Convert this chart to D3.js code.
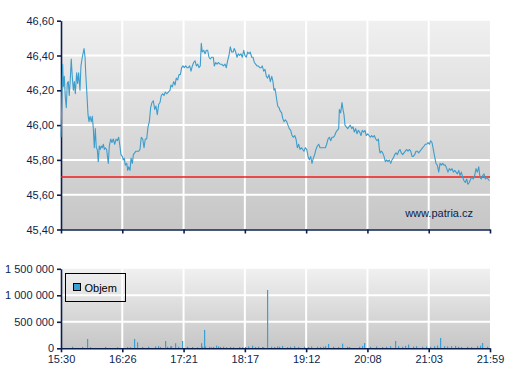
<!DOCTYPE html>
<html>
<head>
<meta charset="utf-8">
<script src="https://cdn.jsdelivr.net/npm/d3@7"></script>
<style>
  body { margin: 0; background: #fff; }
  text { font-family: "Liberation Sans", Arial, sans-serif; }
</style>
</head>
<body>
<script>
// minutes after 15:30, price
const priceSeries = [
  [0,45.93],[1.5,46.35],[2.1,46.22],[3.0,46.28],[3.9,46.16],[4.8,46.10],[5.7,46.24],[6.6,46.25],[7.5,46.17],[8.4,46.26],
  [9.3,46.38],[10.2,46.28],[11.2,46.20],[12.1,46.25],[13.0,46.18],[14.2,46.30],[15.1,46.24],[16.0,46.30],[17.2,46.20],[18.1,46.34],
  [19.3,46.39],[20.9,46.44],[21.8,46.39],[22.4,46.30],[23.3,46.20],[24.5,46.06],[25.4,46.02],[26.3,46.05],[27.5,46.02],[28.4,46.05],
  [29.3,45.98],[30.2,45.87],[31.1,45.98],[32.0,45.87],[32.9,45.86],[33.8,45.79],[34.7,45.88],[35.6,45.86],[36.5,45.88],[37.4,45.87],
  [38.4,45.89],[39.3,45.86],[40.2,45.87],[41.4,45.86],[42.9,45.78],[43.8,45.88],[45.1,45.92],[46.2,45.90],[47.4,45.92],[48.7,45.89],
  [49.9,45.92],[51.1,45.91],[52.3,45.93],[53.2,45.89],[54.4,45.83],[55.6,45.82],[56.5,45.80],[57.4,45.81],[58.3,45.77],[59.6,45.78],
  [60.5,45.74],[61.4,45.76],[62.6,45.74],[63.5,45.81],[64.7,45.78],[65.6,45.83],[66.8,45.84],[68.0,45.85],[69.2,45.85],[70.5,45.85],
  [71.6,45.86],[72.8,45.93],[74.1,45.92],[75.3,45.87],[76.4,45.92],[77.7,45.92],[78.9,45.99],[80.1,46.02],[81.3,46.10],[82.5,46.13],
  [83.7,46.14],[85.0,46.09],[86.1,46.11],[87.3,46.06],[88.6,46.12],[89.8,46.13],[90.9,46.17],[92.2,46.18],[93.4,46.17],[94.6,46.19],
  [95.8,46.18],[97.3,46.19],[98.8,46.20],[99.7,46.23],[100.9,46.22],[102.2,46.25],[103.4,46.23],[104.5,46.27],[105.8,46.26],[107.0,46.29],
  [108.2,46.29],[109.4,46.33],[110.6,46.34],[111.8,46.33],[113.1,46.34],[114.3,46.33],[115.4,46.33],[116.7,46.34],[117.9,46.31],[119.1,46.34],
  [120.3,46.36],[121.5,46.37],[122.7,46.34],[124.0,46.35],[125.1,46.33],[126.3,46.34],[127.2,46.47],[128.1,46.42],[129.4,46.43],[130.6,46.41],
  [131.8,46.43],[133.0,46.43],[134.2,46.39],[135.4,46.38],[136.6,46.39],[138.1,46.39],[139.0,46.34],[140.3,46.36],[141.5,46.35],[142.6,46.36],
  [144.2,46.35],[145.7,46.35],[147.2,46.34],[148.7,46.35],[149.9,46.33],[151.1,46.37],[152.3,46.40],[153.5,46.45],[154.8,46.42],[156.0,46.42],
  [157.1,46.44],[158.4,46.42],[159.6,46.39],[160.8,46.41],[162.0,46.40],[163.2,46.41],[164.4,46.39],[165.7,46.43],[166.8,46.40],[168.0,46.39],
  [169.3,46.42],[170.5,46.41],[171.6,46.42],[172.9,46.39],[174.1,46.39],[175.3,46.36],[176.5,46.35],[177.7,46.34],[178.9,46.34],[180.2,46.33],
  [181.4,46.33],[182.5,46.34],[183.8,46.31],[185.0,46.32],[186.2,46.28],[187.4,46.27],[188.6,46.29],[189.8,46.25],[191.1,46.28],[192.2,46.25],
  [193.1,46.20],[194.0,46.21],[194.6,46.19],[195.5,46.15],[196.5,46.11],[197.7,46.10],[198.9,46.08],[200.1,46.07],[201.0,46.04],[202.2,46.02],
  [203.4,46.03],[204.7,46.02],[205.8,46.00],[207.0,45.98],[208.3,45.97],[209.5,45.94],[210.6,45.93],[211.9,45.94],[213.1,45.92],[214.3,45.87],
  [215.5,45.89],[216.7,45.86],[217.9,45.87],[219.2,45.86],[220.3,45.85],[221.5,45.87],[222.8,45.86],[224.0,45.82],[225.2,45.80],[226.4,45.82],
  [227.6,45.78],[228.8,45.81],[230.0,45.83],[231.2,45.86],[232.4,45.88],[233.7,45.89],[234.9,45.87],[236.0,45.87],[237.3,45.87],[238.5,45.87],
  [239.7,45.87],[240.9,45.89],[242.1,45.92],[243.3,45.93],[244.6,45.91],[245.7,45.93],[246.9,45.93],[248.2,45.94],[249.4,45.96],[250.5,45.97],
  [251.8,45.98],[252.4,46.09],[253.6,46.07],[254.8,46.13],[255.7,46.09],[256.6,46.06],[257.5,46.00],[258.7,45.99],[260.0,45.98],[261.1,45.99],
  [262.3,46.00],[263.6,45.98],[264.8,45.99],[266.0,45.96],[267.2,45.98],[268.4,45.95],[269.6,45.97],[270.8,45.96],[272.0,45.94],[273.2,45.97],
  [274.5,45.96],[275.7,45.97],[276.8,45.94],[278.1,45.95],[279.3,45.94],[280.5,45.93],[281.7,45.94],[282.9,45.93],[284.1,45.94],[285.4,45.92],
  [286.6,45.91],[287.8,45.92],[288.7,45.86],[289.3,45.84],[290.5,45.85],[291.7,45.84],[292.9,45.82],[294.1,45.79],[295.3,45.80],[296.5,45.79],
  [297.7,45.80],[299.0,45.78],[300.1,45.80],[301.3,45.81],[302.6,45.83],[303.8,45.84],[305.0,45.83],[306.2,45.85],[307.4,45.86],[308.6,45.84],
  [309.8,45.83],[311.0,45.84],[312.2,45.85],[313.5,45.86],[314.6,45.85],[315.8,45.86],[317.1,45.85],[318.3,45.82],[319.4,45.82],[320.7,45.83],
  [321.9,45.85],[323.1,45.85],[324.3,45.84],[325.5,45.85],[326.7,45.86],[328.0,45.87],[329.2,45.88],[330.3,45.89],[331.6,45.89],[332.8,45.90],
  [334.0,45.89],[335.2,45.91],[336.4,45.90],[337.6,45.86],[338.8,45.82],[340.0,45.78],[341.2,45.77],[342.5,45.73],[343.7,45.78],[344.9,45.77],
  [346.1,45.78],[347.3,45.77],[348.5,45.77],[349.8,45.75],[350.9,45.73],[352.1,45.75],[353.4,45.74],[354.6,45.75],[355.8,45.73],[357.0,45.74],
  [358.2,45.73],[359.4,45.72],[360.7,45.74],[361.8,45.71],[363.0,45.73],[364.3,45.70],[365.4,45.68],[366.6,45.67],[367.9,45.69],[369.0,45.66],
  [370.2,45.67],[371.5,45.69],[372.6,45.70],[373.8,45.69],[375.1,45.71],[376.3,45.75],[377.5,45.73],[378.8,45.76],[379.9,45.70],[381.1,45.69],
  [382.4,45.71],[383.6,45.72],[384.8,45.69],[386.0,45.70],[387.2,45.69],[388.4,45.68]
]

// minutes after 15:30, volume
const volumeSeries = [
  [10,30000],[19,25000],[24,176000],[26,20000],[40,25000],[51,20000],[60,25000],[63,20000],[66,176000],[69,113000],
  [73,25000],[79,30000],[85,35000],[88,40000],[90,25000],[94,138000],[96,30000],[99,35000],[100,40000],[103,95000],
  [106,30000],[110,138000],[114,30000],[119,25000],[123,20000],[127,95000],[128,30000],[130,347000],[131,35000],[134,30000],
  [136,20000],[138,25000],[141,50000],[142,35000],[144,25000],[147,30000],[150,20000],[153,25000],[156,20000],[161,25000],
  [164,20000],[167,25000],[170,35000],[173,50000],[176,25000],[179,30000],[182,25000],[183,20000],[187,1100000],[190,30000],
  [193,25000],[196,35000],[198,30000],[200,45000],[205,25000],[208,30000],[211,40000],[215,25000],[220,30000],[224,25000],
  [227,35000],[232,30000],[235,25000],[238,30000],[239,40000],[242,81000],[247,30000],[251,25000],[255,87000],[259,30000],
  [261,25000],[270,30000],[273,45000],[275,100000],[280,30000],[286,35000],[291,25000],[295,30000],[298,40000],[303,138000],
  [306,40000],[309,30000],[312,45000],[315,70000],[319,35000],[322,40000],[327,30000],[331,35000],[335,30000],[338,40000],
  [341,50000],[344,195000],[347,40000],[350,35000],[354,40000],[357,45000],[360,30000],[363,25000],[368,30000],[372,25000],
  [377,40000],[380,50000],[382,100000],[386,30000]
]

const timeLabels = ["15:30", "16:26", "17:21", "18:17", "19:12", "20:08", "21:03", "21:59"]
const priceTicks = [45.4, 45.6, 45.8, 46.0, 46.2, 46.4, 46.6]
const volumeTicks = [0, 500000, 1000000, 1500000]
const referencePrice = 45.70
const sessionLength = 389

const svgWidth = 507
const svgHeight = 380
const ink = "#0b1f4f"
const lineColor = "#3d9dcc"

const svg = d3.select("body").append("svg")
  .attr("width", svgWidth)
  .attr("height", svgHeight)

const x = d3.scaleLinear()
  .domain([0, sessionLength])
  .range([61, 490])

const tickMinutes = timeLabels.map((d, i) => i * sessionLength / (timeLabels.length - 1))

const yPrice = d3.scaleLinear().domain([45.4, 46.6]).range([229.5, 20.7])
const yVol = d3.scaleLinear().domain([0, 1500000]).range([348.3, 268.8])

const defs = svg.append("defs")
const grad = defs.append("linearGradient")
  .attr("id", "bg").attr("x1", 0).attr("x2", 0).attr("y1", 0).attr("y2", 1)
grad.append("stop").attr("offset", "0%").attr("stop-color", "#f0f0f0")
grad.append("stop").attr("offset", "100%").attr("stop-color", "#c6c6c6")

const priceFmt = d => d3.format(".2f")(d).replace(".", ",")
const volFmt = d => d3.format(",")(d).replace(/,/g, " ")

function panel(y, ticks, fmt) {
  const g = svg.append("g")
  const [y0, y1] = y.range()
  g.append("rect")
    .attr("x", x.range()[0]).attr("y", y1)
    .attr("width", x.range()[1] - x.range()[0])
    .attr("height", y0 - y1)
    .attr("fill", "url(#bg)")

  // grid
  g.selectAll(".hg").data(ticks.slice(1, -1)).enter().append("line")
    .attr("x1", x.range()[0]).attr("x2", x.range()[1])
    .attr("y1", d => y(d)).attr("y2", d => y(d))
    .attr("stroke", "#fff").attr("stroke-width", 2)
  g.selectAll(".vg").data(tickMinutes.slice(1, -1)).enter().append("line")
    .attr("x1", d => x(d)).attr("x2", d => x(d))
    .attr("y1", y1).attr("y2", y0)
    .attr("stroke", "#fff").attr("stroke-width", 2)

  const yAxis = g.append("g")
    .attr("transform", `translate(${x.range()[0]},0)`)
    .call(d3.axisLeft(y).tickValues(ticks).tickFormat(fmt).tickSize(4).tickPadding(3).tickSizeOuter(0))
  yAxis.select(".domain").attr("stroke", ink).attr("stroke-width", 1.6)
  yAxis.selectAll(".tick line").attr("stroke", ink).attr("stroke-width", 1.6)
  yAxis.selectAll("text").attr("fill", ink).attr("font-size", 11)
    .attr("font-family", "Liberation Sans, Arial, sans-serif")
  return g
}

// price panel
const pricePanel = panel(yPrice, priceTicks, priceFmt)

const refY = Math.round(yPrice(referencePrice))
pricePanel.append("line")
  .attr("x1", x.range()[0]).attr("x2", x.range()[1])
  .attr("y1", refY).attr("y2", refY)
  .attr("stroke", "#f01c1c").attr("stroke-width", 1.5)

pricePanel.append("path")
  .datum(priceSeries)
  .attr("fill", "none")
  .attr("stroke", lineColor)
  .attr("stroke-width", 1.1)
  .attr("stroke-linejoin", "round")
  .attr("d", d3.line().x(d => x(d[0])).y(d => yPrice(d[1])))

pricePanel.append("text")
  .attr("x", 473).attr("y", 217)
  .attr("text-anchor", "end")
  .attr("font-size", 11)
  .attr("fill", ink)
  .text("www.patria.cz")

const priceX = pricePanel.append("g")
  .attr("transform", `translate(0,${yPrice.range()[0]})`)
  .call(d3.axisBottom(x).tickValues(tickMinutes).tickFormat("").tickSize(4).tickSizeOuter(0))
priceX.select(".domain").attr("stroke", ink).attr("stroke-width", 1.6)
priceX.selectAll(".tick line").attr("stroke", ink).attr("stroke-width", 1.6)

// volume panel
const volPanel = panel(yVol, volumeTicks, volFmt)

volPanel.selectAll(".bar").data(volumeSeries).enter().append("rect")
  .attr("x", d => Math.round(x(d[0])))
  .attr("y", d => yVol(d[1]))
  .attr("width", 1.2)
  .attr("height", d => yVol(0) - yVol(d[1]))
  .attr("fill", "#3a9fd3")

const volX = volPanel.append("g")
  .attr("transform", `translate(0,${yVol.range()[0]})`)
  .call(d3.axisBottom(x).tickValues(tickMinutes).tickFormat((d, i) => timeLabels[i]).tickSize(4).tickPadding(3).tickSizeOuter(0))
volX.select(".domain").attr("stroke", ink).attr("stroke-width", 1.6)
volX.selectAll(".tick line").attr("stroke", ink).attr("stroke-width", 1.6)
volX.selectAll("text").attr("fill", ink).attr("font-size", 11)
  .attr("font-family", "Liberation Sans, Arial, sans-serif")

// legend
const legend = volPanel.append("g").attr("transform", "translate(65.5,273.5)")
legend.append("rect").attr("width", 60).attr("height", 28)
  .attr("fill", "none").attr("stroke", "#000").attr("stroke-width", 1)
legend.append("rect").attr("x", 8).attr("y", 10).attr("width", 7).attr("height", 7)
  .attr("fill", "#3a9fd3").attr("stroke", "#000").attr("stroke-width", 1)
legend.append("text").attr("x", 19).attr("y", 18)
  .attr("font-size", 11).attr("fill", "#000").text("Objem")
</script>
</body>
</html>
